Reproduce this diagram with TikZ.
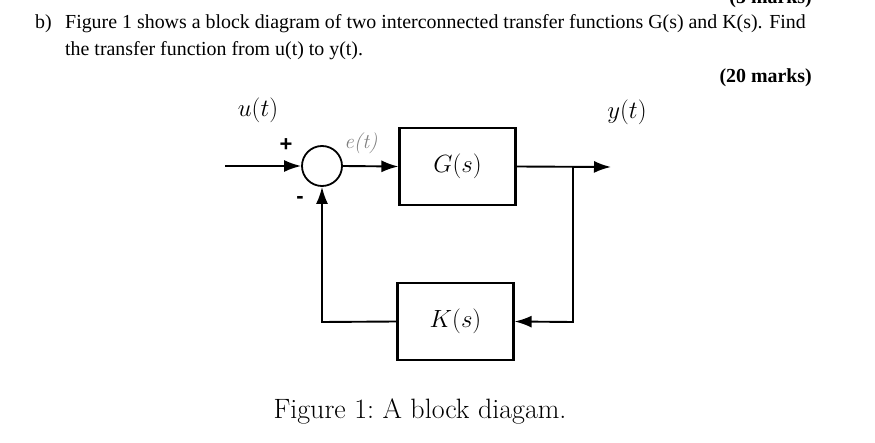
\documentclass[tikz,border=0pt]{standalone}
\usepackage{fontspec}
\newfontfamily\timesf{Liberation Serif}
\newfontfamily\arialf{Liberation Sans}
\usetikzlibrary{arrows.meta}
\begin{document}
\begin{tikzpicture}[x=1pt,y=-1pt,
  blk/.style={draw,line width=2.2pt,minimum width=116pt,minimum height=77pt,inner sep=0pt},
  sumc/.style={draw,circle,line width=1.8pt,minimum size=40pt,inner sep=0pt},
  wire/.style={line width=1.9pt},
  arr/.style={wire,-{Latex[length=17pt,width=12pt]}},
  hdr/.style={font=\timesf\fontsize{19.9}{22}\selectfont,inner sep=0pt,anchor=base west},
  mlab/.style={font=\fontsize{26}{30}\selectfont,inner sep=0pt},
  sgn/.style={font=\arialf\bfseries\fontsize{22}{24}\selectfont,inner sep=0pt}]
\useasboundingbox (0,0) rectangle (875,443);
\node[hdr,anchor=base east,font=\timesf\bfseries\fontsize{19.9}{22}\selectfont] (five) at (812,4) {(5 marks)};
\node[hdr] (b) at (35,29) {b)};
\node[hdr] (l1) at (65,29) {Figure 1 shows a block diagram of two interconnected transfer functions G(s) and K(s). Find};
\node[hdr] (l2) at (65,56) {the transfer function from u(t) to y(t).};
\node[hdr,anchor=base east,font=\timesf\bfseries\fontsize{19.9}{22}\selectfont] (marks) at (812,83) {(20 marks)};
% blocks
\node[sumc] (s) at (322,166) {};
\node[blk] (G) at (457.5,166.5) {};
\node[mlab] at (G.center) {$G(s)$};
\node[blk] (K) at (455.5,321.5) {};
\node[mlab] at (K.center) {$K(s)$};
\coordinate (in) at (225,166);
\coordinate (br) at (573,167);
\coordinate (out) at (611,167);
\coordinate (kr) at (573,322);
\coordinate (kl) at (322,322);
\draw[arr] (in) -- (s.west);
\draw[arr] (s.east) -- (G.west);
\draw[arr] (G.east) -- (out);
\draw[arr] (br) -- (kr) -- (K.east);
\draw[arr] (K.west) -- (kl) -- (s.south);
% labels
\node[mlab,anchor=base] (u) at (258,117) {$u(t)$};
\node[mlab,anchor=base] (y) at (627,119) {$y(t)$};
\node[sgn] (plus) at (286,145) {+};
\node[sgn] (minus) at (300,200) {-};
\node[text=gray,font=\itshape\fontsize{21}{24}\selectfont] (e) at (361,143) {e(t)};
\node[font=\fontsize{28}{32}\selectfont,anchor=base] (cap) at (420,418) {Figure 1:\ A block diagam.};
\end{tikzpicture}
\end{document}
